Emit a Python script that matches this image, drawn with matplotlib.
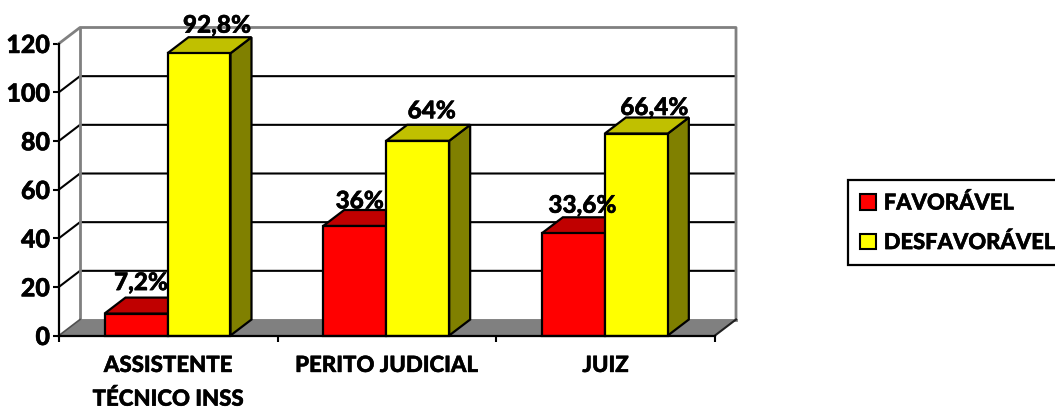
import matplotlib
matplotlib.use("Agg")
import matplotlib.pyplot as plt
import matplotlib.patheffects as pe
from matplotlib.patches import Polygon, Rectangle

categories = ["ASSISTENTE\nTÉCNICO INSS", "PERITO JUDICIAL", "JUIZ"]
favoravel = [9, 45, 42]
desfavoravel = [116, 80, 83]
favoravel_labels = ["7,2%", "36%", "33,6%"]
desfavoravel_labels = ["92,8%", "64%", "66,4%"]
y_ticks = [0, 20, 40, 60, 80, 100, 120]

W, H = 1055, 410
plt.rcParams["font.family"] = ["Lato", "DejaVu Sans"]
WEIGHT = "black"
plt.rcParams["font.weight"] = WEIGHT
THICK = [pe.withStroke(linewidth=0.35, foreground="black")]

fig = plt.figure(figsize=(W / 100, H / 100), dpi=100, facecolor="white")
L, R, B, T = 59, 715, 336.5, 44.5
ax = fig.add_axes([L / W, 1 - B / H, (R - L) / W, (B - T) / H])
ax.set_xlim(0, 3)
ax.set_ylim(0, 120)
ax.patch.set_visible(False)

DX = 21 * 3 / (R - L)
DY = 16 * 120 / (B - T)
GRAY = "#808080"
BLACK = "black"

ax.add_patch(Polygon([(0, 0), (3, 0), (3 + DX, DY), (DX, DY)], fc=GRAY, ec="none", clip_on=False, zorder=1))
for v in y_ticks[1:-1]:
    ax.plot([0, DX, 3 + DX], [v, v + DY, v + DY], color=BLACK, lw=1.5, clip_on=False, zorder=2, solid_joinstyle="miter")
ax.plot([0, DX, 3 + DX, 3 + DX], [120, 120 + DY, 120 + DY, DY], color=GRAY, lw=2, clip_on=False, zorder=2)
ax.plot([DX, DX, 3 + DX], [120 + DY, DY, DY], color=GRAY, lw=2, clip_on=False, zorder=2)
ax.plot([3, 3 + DX], [0, DY], color="#202020", lw=1.5, clip_on=False, zorder=2)
ax.plot([0, DX], [0, DY], color="#505050", lw=1.2, clip_on=False, zorder=2)

BAR_W = 63 * 3 / (R - L)
EDGE = 1.6


def bar3d(x0, h, front, top, side, z):
    x1 = x0 + BAR_W
    kw = dict(ec=BLACK, lw=EDGE, joinstyle="miter", clip_on=False, zorder=z)
    ax.add_patch(Polygon([(x1, 0), (x1 + DX, DY), (x1 + DX, h + DY), (x1, h)], fc=side, **kw))
    ax.add_patch(Polygon([(x0, h), (x1, h), (x1 + DX, h + DY), (x0 + DX, h + DY)], fc=top, **kw))
    ax.add_patch(Rectangle((x0, 0), BAR_W, h, fc=front, **kw))


fav_off = [(5, 31), (5, 25), (9, 28)]
des_off = [(18, 28), (14, 30), (18, 26)]
for i in range(len(categories)):
    x_left = i + (45.5 * 3 / (R - L))
    bar3d(x_left, favoravel[i], "#FF0000", "#C00000", "#800000", 3 + i)
    bar3d(x_left + BAR_W, desfavoravel[i], "#FFFF00", "#C0C000", "#808000", 3.5 + i)
    for j, (vals, labs, off) in enumerate(((favoravel, favoravel_labels, fav_off), (desfavoravel, desfavoravel_labels, des_off))):
        ax.annotate(labs[i], (x_left + BAR_W * (j + 0.5), vals[i]), xytext=off[i], textcoords="offset pixels",
                    ha="center", va="center", fontsize=17.5, fontweight=WEIGHT, zorder=10, annotation_clip=False,
                    path_effects=THICK)

for s in ("top", "right"):
    ax.spines[s].set_visible(False)
for s in ("left", "bottom"):
    ax.spines[s].set_linewidth(1.6)
    ax.spines[s].set_zorder(8)
ax.set_yticks(y_ticks)
ax.tick_params(axis="y", length=4, width=1.5, labelsize=18, pad=2.5)
ax.set_xticks([0, 1, 2, 3])
ax.set_xticklabels([])
ax.tick_params(axis="x", which="major", length=4.5, width=1.5)
ax.set_xticks([0.5, 1.5, 2.5], minor=True)
ax.set_xticklabels(categories, minor=True, fontsize=16, fontweight=WEIGHT, linespacing=1.7)
ax.tick_params(axis="x", which="minor", length=0, pad=14)
for t in ax.get_yticklabels() + ax.get_xticklabels(minor=True):
    t.set_path_effects(THICK)

hs = [Rectangle((0, 0), 1, 1, fc="#FF0000", ec=BLACK, lw=1.5), Rectangle((0, 0), 1, 1, fc="#FFFF00", ec=BLACK, lw=1.5)]
leg = fig.legend(hs, ["FAVORÁVEL", "DESFAVORÁVEL"], loc="upper left",
                 bbox_to_anchor=(848 / W, 1 - 181 / H), frameon=True, fancybox=False, edgecolor=BLACK,
                 framealpha=1, prop={"size": 15.8, "weight": WEIGHT}, handlelength=0.72, handleheight=0.72,
                 handletextpad=0.36, labelspacing=0.82, borderpad=0.55, borderaxespad=0)
leg.get_frame().set_linewidth(1.6)
for t in leg.get_texts():
    t.set_path_effects(THICK)

fig.savefig("out.png", dpi=100)
